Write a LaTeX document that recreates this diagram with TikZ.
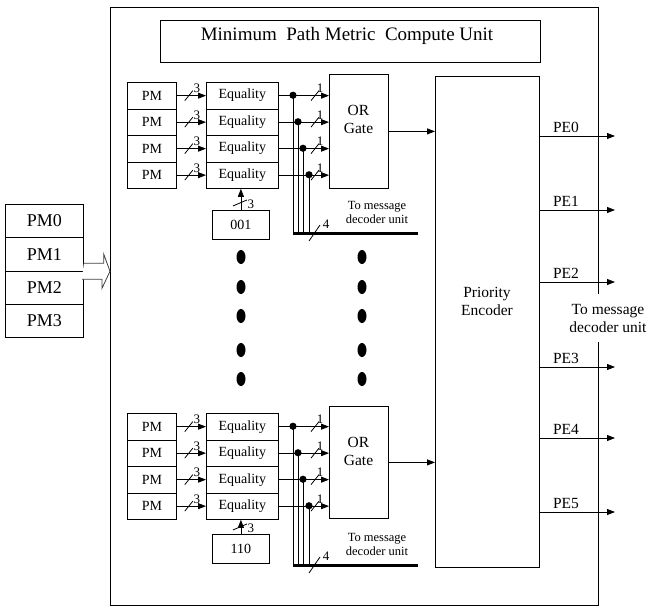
\documentclass[tikz,border=0pt]{standalone}
\usepackage{fontspec}
\setmainfont{Liberation Serif}
\usetikzlibrary{arrows.meta}
\begin{document}
\begin{tikzpicture}[x=1pt,y=-1pt, line width=0.8pt,
  box/.style={draw, inner sep=0pt, anchor=north west},
  sig/.style={-{Triangle[length=8pt,width=6pt]}},
  tlab/.style={font=\fontsize{13}{14}\selectfont, inner sep=0pt},
  tsmall/.style={font=\fontsize{12.5}{14}\selectfont, inner sep=0pt},
  tmid/.style={font=\fontsize{14}{16}\selectfont},
  tbig/.style={font=\fontsize{15.5}{18}\selectfont},
  tpm/.style={font=\fontsize{18}{20}\selectfont},
  ttitle/.style={font=\fontsize{19}{21}\selectfont},
  hollow/.style={draw=black!75, fill=white, line width=0.8pt}
]
\useasboundingbox (0,0) rectangle (651,608);

% outer unit
\node[box, minimum width=488pt, minimum height=598pt] (outer) at (110,7) {};
\node[box, minimum width=380pt, minimum height=42pt] (title) at (160,20) {};
\node[ttitle] (titletext) at (347,36) {Minimum\ \ Path Metric\ \ Compute Unit};

% input registers
\foreach \k in {0,...,3}{
  \node[box, tpm, minimum width=78pt, minimum height=33.25pt] (pm\k) at (5,{204+33.25*\k}) {PM\k};
}
\coordinate (arrS) at (pm1.south east);
\draw[hollow] (arrS) ++(0,-8) -- ++(20,0) -- ++(0,-9) -- (outer.west |- arrS)
  -- ++(-8,17) -- ++(0,-9) -- ++(-20,0);

% priority encoder
\node[box, minimum width=104pt, minimum height=491pt] (pe) at (435,76) {};
\node[tbig, align=center] (petext) at (487,301) {Priority\\Encoder};

% two comparator groups
\foreach \s/\rt/\code/\ct/\bus/\ot/\oh in {t/82/001/210/233/74/114, b/413/110/534/565/406/112}{
  \node[box, minimum width=59pt, minimum height=\oh pt] (or\s) at (329,\ot) {};
  \node[tbig, align=center] (orlbl\s) at (358.5,{\ot+45}) {OR\\Gate};
  \coordinate (busL\s) at (293,\bus);
  \coordinate (busR\s) at (418,\bus);
  \foreach \i/\dx in {1/293,2/298,3/303,4/309}{
    \node[box, tmid, minimum width=49pt, minimum height=26.5pt] (pm\s\i) at (127,{\rt+26.5*(\i-1)}) {PM};
    \node[box, tmid, minimum width=72pt, minimum height=26.5pt] (eq\s\i) at (206,{\rt+26.5*(\i-1)}) {Equality};
    \draw[sig] (pm\s\i.east) -- (eq\s\i.west);
    \draw ([xshift=8pt,yshift=-5pt]pm\s\i.east) -- ([xshift=16pt,yshift=5pt]pm\s\i.east);
    \node[tlab] (l3\s\i) at ([xshift=20pt,yshift=7pt]pm\s\i.east) {3};
    \coordinate (d\s\i) at (\dx,{\rt+26.5*(\i-0.5)});
    \draw[sig] (eq\s\i.east) -- (or\s.west |- eq\s\i.east);
    \fill (d\s\i) circle (3.6pt);
    \draw (d\s\i) -- (d\s\i |- busL\s);
    \draw ([xshift=-18pt,yshift=-5pt]or\s.west |- eq\s\i.east) -- ([xshift=-10pt,yshift=5pt]or\s.west |- eq\s\i.east);
    \node[tlab] (l1\s\i) at ([xshift=-9pt,yshift=7pt]or\s.west |- eq\s\i.east) {1};
  }
  \draw[line width=3pt] (busL\s) -- (busR\s);
  \draw ([xshift=16pt,yshift=-8pt]busL\s) -- ([xshift=27pt,yshift=8pt]busL\s);
  \node[tlab] (l4\s) at ([xshift=33pt,yshift=9pt]busL\s) {4};
  \node[tsmall, align=center] (tm\s) at ([xshift=84pt,yshift=21pt]busL\s) {To message\\decoder unit};
  \node[box, tmid, minimum width=57pt, minimum height=29pt] (code\s) at (212,\ct) {\code};
  \draw[sig] (code\s.north) -- (code\s.north |- eq\s4.south);
  \draw ([xshift=-8pt,yshift=4pt]code\s.north) -- ([xshift=6pt,yshift=10pt]code\s.north);
  \node[tlab] (lc\s) at ([xshift=10pt,yshift=6pt]code\s.north) {3};
  \draw[sig] (or\s.east) -- (pe.west |- or\s.east);
}

% vertical dots
\foreach \yy in {257,287,316,350,379}{
  \fill (241,\yy) ellipse (4.5pt and 7pt);
  \fill (362,\yy) ellipse (4.5pt and 7pt);
}

% priority encoder outputs
\foreach \k/\yy in {0/136,1/210,2/282,3/367,4/438,5/512}{
  \coordinate (peo\k) at (615,\yy);
  \draw[sig] (pe.east |- peo\k) -- (peo\k);
  \node[tbig, anchor=base] (pel\k) at ([yshift=4pt]peo\k -| 566,0) {PE\k};
}
\node[tbig, align=center, fill=white, inner xsep=1pt, inner ysep=10pt] (tomsg) at (608,318) {To message\\decoder unit};
\end{tikzpicture}
\end{document}
